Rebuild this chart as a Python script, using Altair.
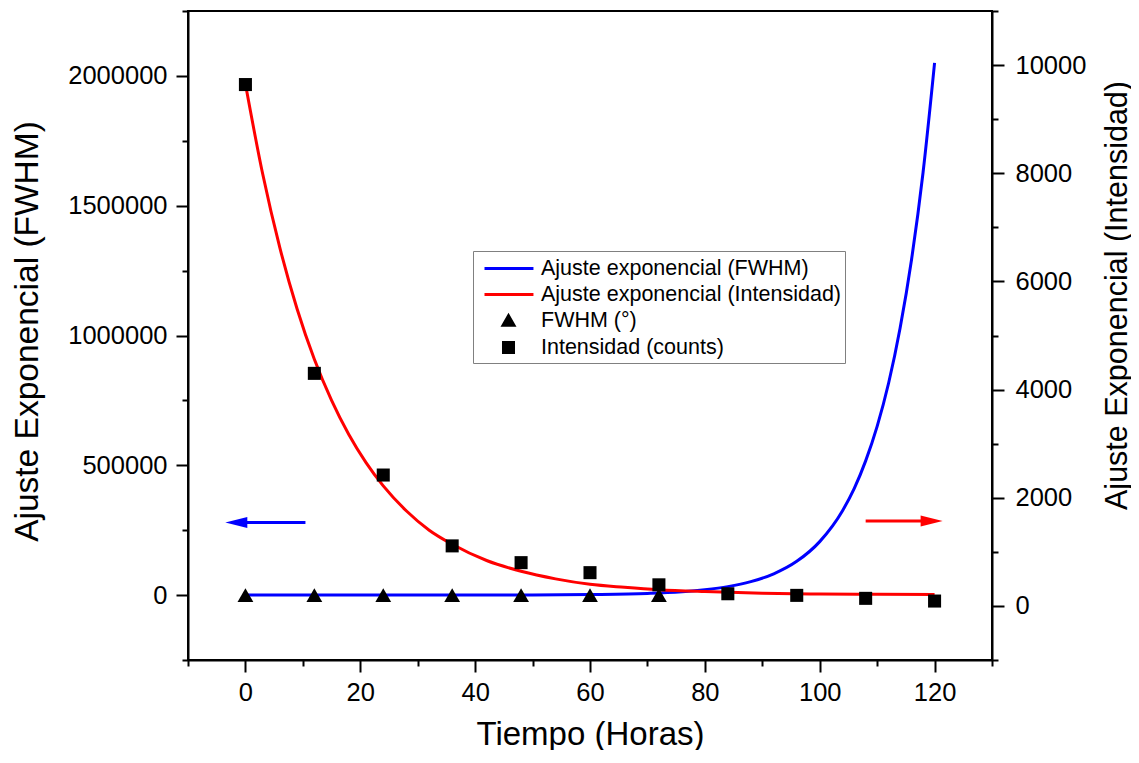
import altair as alt
import pandas as pd

FONT = "Liberation Sans"

# ---- data ----
# exponential fit of FWHM (left axis)
t_fit_fwhm = [0, 10, 20, 30, 40, 50, 60, 70, 80, 84, 88, 92, 96, 100, 104, 106, 108, 110, 112, 114, 116, 118, 120]
fit_fwhm = [0, 0, 0, 10, 60, 300, 2100, 6500, 20600, 32700, 51800, 82000, 130000, 206000, 326000,
            410000, 517000, 650000, 817000, 1029000, 1294000, 1629000, 2050000]

# exponential fit of intensity (right axis)
t_fit_int = [0, 3, 6, 9, 12, 15, 18, 21, 24, 28, 32, 36, 42, 48, 54, 60, 66, 72, 80, 90, 100, 110, 120]
fit_int = [9650, 7990, 6620, 5490, 4560, 3800, 3170, 2650, 2220, 1760, 1400, 1140, 840, 640, 500,
           400, 345, 300, 265, 235, 220, 215, 210]

# measured points
t_fwhm = [0, 12, 24, 36, 48, 60, 72]
fwhm = [0.3, 0.3, 0.3, 0.3, 0.3, 0.3, 0.3]

t_int = [0, 12, 24, 36, 48, 60, 72, 84, 96, 108, 120]
intensidad = [9640, 4300, 2420, 1110, 800, 615, 390, 225, 195, 140, 90]

# arrows (axis indicators)
arrow_fwhm_x = [-1.5, 10.45]
arrow_fwhm_tip = [-3.5]
arrow_fwhm_y = [280000]
arrow_int_x = [108, 119.5]
arrow_int_tip = [121.4]
arrow_int_y = [1570]

series = ["Ajuste exponencial (FWHM)", "Ajuste exponencial (Intensidad)", "FWHM (°)", "Intensidad (counts)"]
series_colors = ["#0000ff", "#ff0000", "black", "black"]

x_major_vals = [0, 20, 40, 60, 80, 100, 120]
x_minor_vals = [-10, 10, 30, 50, 70, 90, 110, 130]
yl_major_vals = [0, 500000, 1000000, 1500000, 2000000]
yl_minor_vals = [-250000, 250000, 750000, 1250000, 1750000, 2250000]
yr_major_vals = [0, 2000, 4000, 6000, 8000, 10000]
yr_minor_vals = [-1000, 1000, 3000, 5000, 7000, 9000, 11000]

# ---- frames ----
df_fit_fwhm = pd.DataFrame({"t": t_fit_fwhm, "v": fit_fwhm, "serie": series[0]})
df_fit_int = pd.DataFrame({"t": t_fit_int, "v": fit_int, "serie": series[1]})
df_fwhm = pd.DataFrame({"t": t_fwhm, "v": fwhm, "serie": series[2]})
df_int = pd.DataFrame({"t": t_int, "v": intensidad, "serie": series[3]})
df_arrow_l = pd.DataFrame({"t": [arrow_fwhm_x[0]], "t2": [arrow_fwhm_x[1]], "tip": arrow_fwhm_tip, "v": arrow_fwhm_y})
df_arrow_r = pd.DataFrame({"t": [arrow_int_x[0]], "t2": [arrow_int_x[1]], "tip": arrow_int_tip, "v": arrow_int_y})

xs = alt.Scale(domain=[-10, 130], nice=False, zero=False)
yls = alt.Scale(domain=[-250000, 2250000], nice=False, zero=False)
yrs = alt.Scale(domain=[-1000, 11000], nice=False, zero=False)
cs = alt.Scale(domain=series, range=series_colors)

common_major = dict(tickWidth=2, tickColor="black", tickSize=12, domainColor="black", domainWidth=2,
                    labelFont=FONT, labelFontSize=25.5, labelColor="black", grid=False,
                    titleFont=FONT, titleFontWeight="normal", titleColor="black")
common_minor = dict(tickWidth=2, tickColor="black", tickSize=6, labels=False, domain=False,
                    grid=False, title=None)

x_major = alt.Axis(values=x_major_vals, orient="bottom", labelPadding=8,
                   title="Tiempo (Horas)", titleFontSize=33, titleX=402, titleY=84,
                   titleAlign="center", titleBaseline="alphabetic", **common_major)
x_minor = alt.Axis(values=x_minor_vals, orient="bottom", **common_minor)

yl_major = alt.Axis(values=yl_major_vals, orient="left", format="d", labelPadding=9,
                    title="Ajuste Exponencial (FWHM)", titleFontSize=33.5, titleAngle=270,
                    titleX=-151, titleY=320, titleAlign="center", titleBaseline="alphabetic",
                    **common_major)
yl_minor = alt.Axis(values=yl_minor_vals, orient="left", **common_minor)

yr_major = alt.Axis(values=yr_major_vals, orient="right", format="d", labelPadding=11,
                    title="Ajuste Exponencial (Intensidad)", titleFontSize=30.5, titleAngle=270,
                    titleX=134, titleY=284, titleAlign="center", titleBaseline="alphabetic",
                    **common_major)
yr_minor = alt.Axis(values=yr_minor_vals, orient="right", **common_minor)

legend = alt.Legend(
    title=None, orient="none", legendX=285, legendY=240,
    symbolSize=576, labelOffset=37, padding=4, rowPadding=2, labelLimit=0,
    labelFont=FONT, labelFontSize=21.5, labelColor="black",
    strokeColor="#808080", fillColor="white",
    symbolStrokeWidth=3, symbolOpacity=1,
    symbolType=alt.ExprRef(expr="datum.index < 2 ? 'M-0.5,0H3.58' : (datum.index == 2 ? 'M1.05,0.39L1.95,0.39L1.5,-0.39Z' : 'M1.083,-0.417H1.917V0.417H1.083Z')"),
    symbolFillColor=alt.ExprRef(expr="datum.index < 2 ? 'transparent' : 'black'"),
)

blue_line = alt.Chart(df_fit_fwhm).mark_line(strokeWidth=3, interpolate="monotone").encode(
    x=alt.X("t:Q", scale=xs, axis=x_major),
    y=alt.Y("v:Q", scale=yls, axis=yl_major),
    color=alt.Color("serie:N", scale=cs, legend=legend),
)
red_line = alt.Chart(df_fit_int).mark_line(strokeWidth=3, interpolate="monotone").encode(
    x=alt.X("t:Q", scale=xs, axis=None),
    y=alt.Y("v:Q", scale=yrs, axis=yr_major),
    color=alt.Color("serie:N", scale=cs, legend=None),
)
triangles = alt.Chart(df_fwhm).mark_point(filled=True, shape="triangle-up", size=250, opacity=1).encode(
    x=alt.X("t:Q", scale=xs, axis=x_minor),
    y=alt.Y("v:Q", scale=yls, axis=yl_minor),
    color=alt.Color("serie:N", scale=cs, legend=None),
)
squares = alt.Chart(df_int).mark_point(filled=True, shape="square", size=170, opacity=1).encode(
    x=alt.X("t:Q", scale=xs, axis=None),
    y=alt.Y("v:Q", scale=yrs, axis=yr_minor),
    color=alt.Color("serie:N", scale=cs, legend=None),
)
arrow_l_shaft = alt.Chart(df_arrow_l).mark_rule(color="#0000ff", strokeWidth=3).encode(
    x=alt.X("t:Q", scale=xs, axis=None), x2="t2:Q",
    y=alt.Y("v:Q", scale=yls, axis=None),
)
arrow_l_head = alt.Chart(df_arrow_l).mark_point(filled=True, opacity=1, color="#0000ff",
                                                 shape="M0,0L2,-0.5L2,0.5Z", size=484).encode(
    x=alt.X("tip:Q", scale=xs, axis=None),
    y=alt.Y("v:Q", scale=yls, axis=None),
)
arrow_r_shaft = alt.Chart(df_arrow_r).mark_rule(color="#ff0000", strokeWidth=3).encode(
    x=alt.X("t:Q", scale=xs, axis=None), x2="t2:Q",
    y=alt.Y("v:Q", scale=yrs, axis=None),
)
arrow_r_head = alt.Chart(df_arrow_r).mark_point(filled=True, opacity=1, color="#ff0000",
                                                 shape="M0,0L-2,-0.5L-2,0.5Z", size=484).encode(
    x=alt.X("tip:Q", scale=xs, axis=None),
    y=alt.Y("v:Q", scale=yrs, axis=None),
)

chart = alt.layer(
    blue_line, red_line, triangles, squares,
    arrow_l_shaft, arrow_l_head, arrow_r_shaft, arrow_r_head,
).resolve_scale(
    y="independent"
).resolve_axis(
    x="independent", y="independent"
).properties(
    width=804, height=649,
    padding={"left": 180, "top": 3, "right": 139, "bottom": 90},
    autosize=alt.AutoSizeParams(type="none"),
    background="white",
).configure_view(
    stroke="black", strokeWidth=2
)

chart.save("out.html", embed_options={"renderer": "svg", "actions": False})
